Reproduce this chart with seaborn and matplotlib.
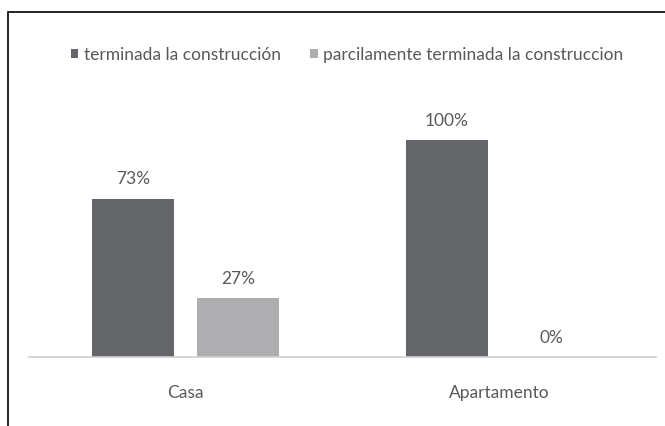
import matplotlib
matplotlib.use("Agg")
import matplotlib.pyplot as plt
from matplotlib.patches import Rectangle
import pandas as pd
import seaborn as sns

# data
tipos = ["Casa", "Apartamento"]
estados = ["terminada la construcción", "parcilamente terminada la construccion"]
terminada = [73, 100]
parcial = [27, 0]

DARK = "#646569"
LIGHT = "#AEAEB0"
TEXT = "#595959"
FS = 12.5

df = pd.DataFrame({
    "tipo": tipos * 2,
    "estado": [estados[0]] * len(tipos) + [estados[1]] * len(tipos),
    "valor": terminada + parcial,
})

sns.set_theme(style="white")
plt.rcParams["font.family"] = ["Lato", "DejaVu Sans"]

fig = plt.figure(figsize=(6.65, 4.26), dpi=100)
ax = fig.add_axes([29 / 665, 69 / 426, 627 / 665, 257 / 426])

sns.barplot(data=df, x="tipo", y="valor", hue="estado", order=tipos,
            hue_order=estados, palette=[DARK, LIGHT], saturation=1,
            width=0.67, gap=0.22, ax=ax, linewidth=0)

for cont in ax.containers:
    ax.bar_label(cont, fmt="%d%%", padding=8, fontsize=FS, color=TEXT)

ax.set_ylim(0, 118.4)
ax.set_xlim(-0.5, 1.5)
ax.set_xlabel(""); ax.set_ylabel("")
ax.set_yticks([])
ax.tick_params(axis="x", length=0, pad=20, labelsize=FS, labelcolor=TEXT)
for s in ["top", "left", "right"]:
    ax.spines[s].set_visible(False)
ax.spines["bottom"].set_color("#D0D0D0")
ax.spines["bottom"].set_linewidth(1.2)

ax.legend(loc="center", bbox_to_anchor=(347 / 665, 1 - 55 / 426),
          bbox_transform=fig.transFigure, ncol=2, frameon=False,
          handlelength=0.45, handleheight=0.45, handletextpad=0.3,
          columnspacing=1.7, fontsize=FS, labelcolor=TEXT)

fig.add_artist(Rectangle((8 / 665, -0.05), 1.1, 1 - 12 / 426 + 0.05,
                         fill=False, edgecolor="black", linewidth=1.2,
                         transform=fig.transFigure))

fig.savefig("out.png", dpi=100)
plt.close(fig)
